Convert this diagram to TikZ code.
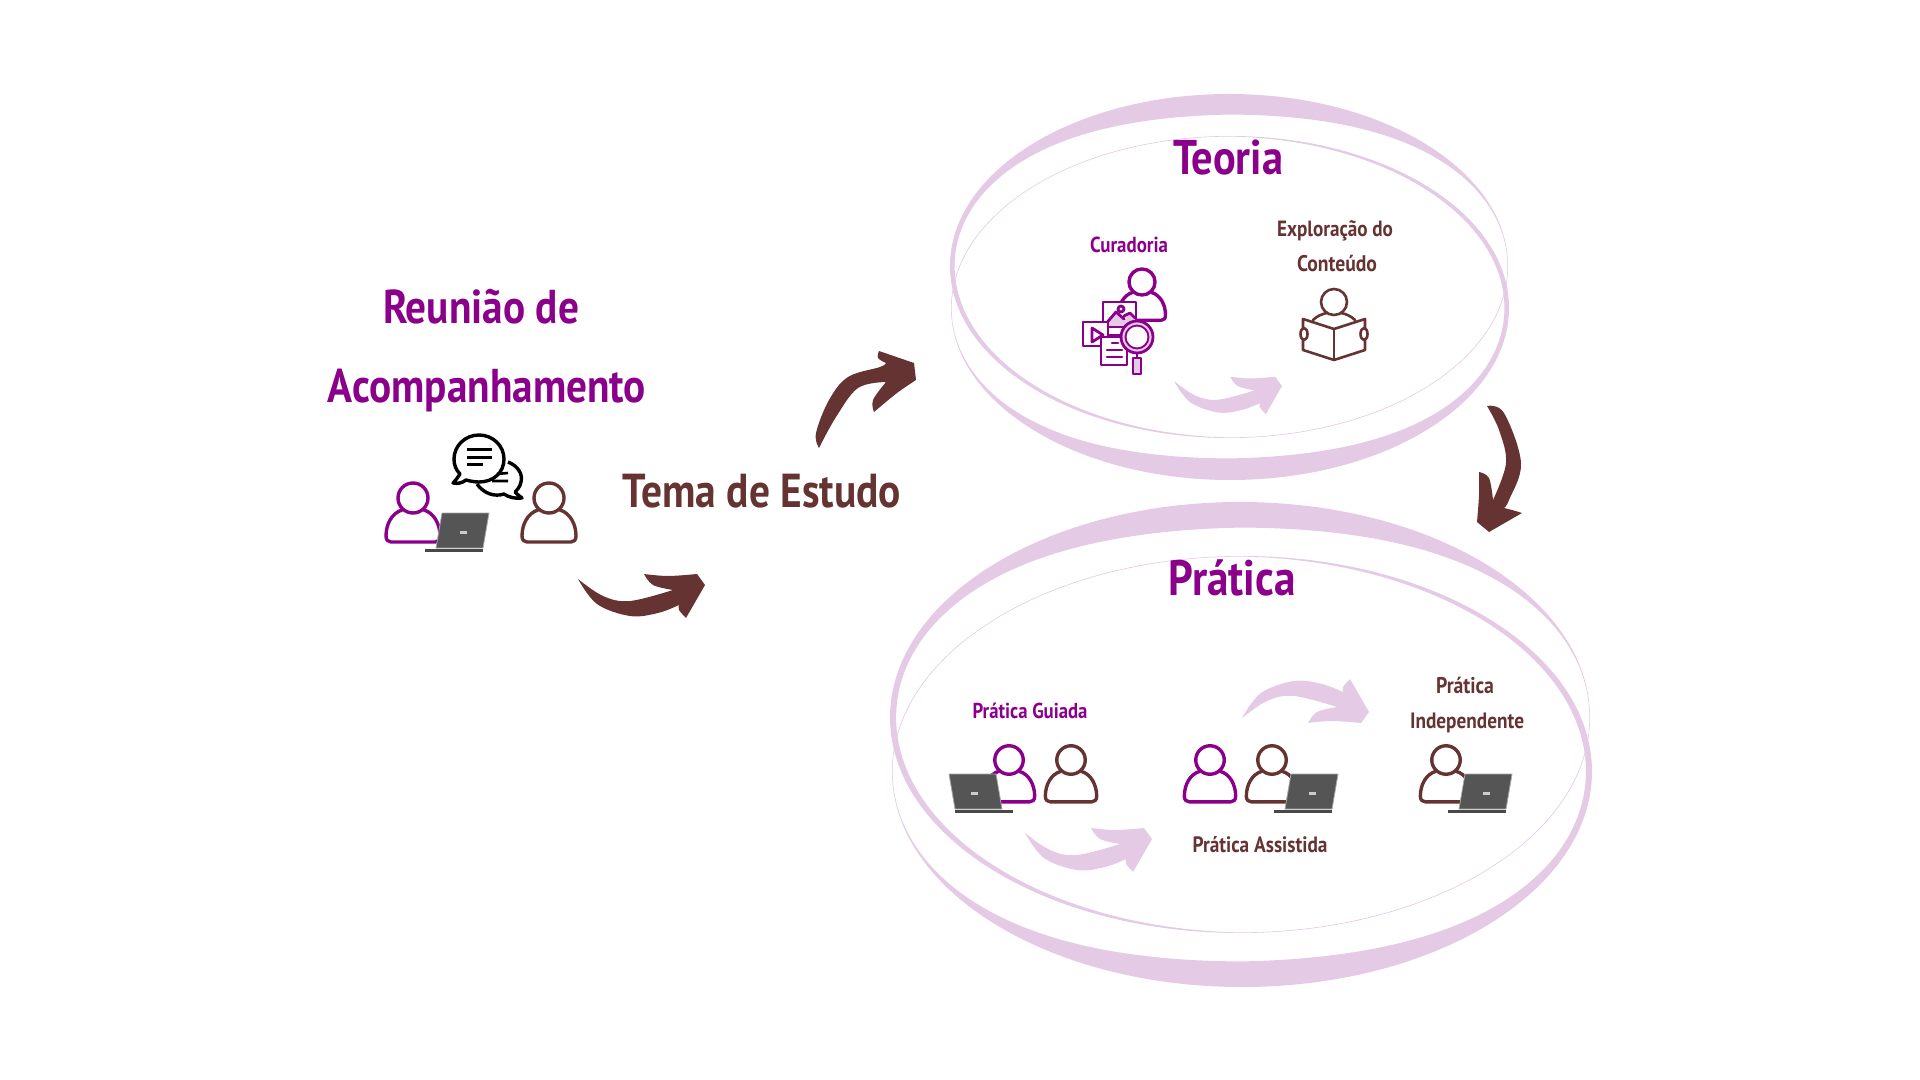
\documentclass[tikz,border=0pt]{standalone}
\usepackage{fontspec}
\setmainfont{PT Sans}
\usepackage{graphicx}
\definecolor{pur}{HTML}{8B008B}
\definecolor{bro}{HTML}{663333}
\definecolor{pnk}{HTML}{E5CAE5}
\definecolor{lap}{HTML}{555555}
\newlength\pxu \setlength\pxu{0.5pt}
\newcommand{\wtxt}[2]{\scalebox{1}[1.15]{\resizebox{#1\pxu}{!}{\bfseries #2}}}
\tikzset{lab/.style={anchor=base,inner sep=0pt,outer sep=0pt},
  icon/.style={line width=1.7pt,line join=round,line cap=round}}
% ring: cx cy rx ry crescent-width side-width direction(1 top, -1 bottom)
\newcommand{\myring}[7]{\fill[pnk,even odd rule] (#1,#2) ellipse [x radius=#3,y radius=#4]
  plot[domain=0:360,samples=180,variable=\t,smooth]
  ({#1+(#3-(0.6+#5*max(#7*sin(\t),0)^3+#6*max(-#7*cos(\t),0)))*cos(\t)},
   {#2-(#4-(0.6+#5*max(#7*sin(\t),0)^3+#6*max(-#7*cos(\t),0)))*sin(\t)}) -- cycle;}
\newcommand{\myperson}[4]{\begin{scope}[shift={(#1,#2)},scale=#3]
  \draw[icon,#4] (0,0) circle [radius=15];
  \draw[icon,#4] (-11,12) .. controls (-21,15) and (-27,26) .. (-27,38) .. controls (-27,42) and (-25,44) .. (-22,44) -- (22,44) .. controls (25,44) and (27,42) .. (27,38) .. controls (27,26) and (21,15) .. (11,12);
\end{scope}}
\newcommand{\mylaptop}[3]{\begin{scope}[shift={(#1,#2)},xscale=#3]
  \fill[lap,draw=gray!70!white,line width=.4pt] (17,0) -- (64,0) -- (58,35) -- (11,35) -- cycle;
  \fill[lap!85!black] (0,36) rectangle (58,39);
  \fill[gray!40!white] (35,18) rectangle (42,21);
\end{scope}}
\newcommand{\myarrow}[5]{\fill[#5,shift={(#1,#2)},xscale=#3,yscale=#4]
  plot[smooth,tension=.6] coordinates {(0,0) (25,17) (52,22) (95,11)}
  -- plot[smooth,tension=.6] coordinates {(95,11) (75,6) (66,-5)}
  -- plot[smooth,tension=.6] coordinates {(66,-5) (90,-3) (119,-5)}
  -- (127,6) -- (108,39)
  -- plot[smooth,tension=.6] coordinates {(108,39) (101,31) (101,26)}
  -- plot[smooth,tension=.6] coordinates {(101,26) (80,34) (52,37) (19,25) (0,0)} -- cycle;}
\begin{document}
\begin{tikzpicture}[x=.5pt,y=-.5pt]
\useasboundingbox (0,0) rectangle (1920,1080);
% Teoria rings
\myring{1229}{266}{279}{172}{20}{4}{1}
\myring{1230}{308}{279}{172}{21}{4}{-1}
% Pratica rings
\myring{1240}{717.5}{350}{215.5}{25}{5.5}{1}
\myring{1242}{771.5}{350}{215.5}{25}{5.5}{-1}
% Meeting
\myperson{413}{498}{1}{pur}
\myperson{549}{498}{1}{bro}
\mylaptop{425}{513}{1}
% speech bubbles
\draw[line width=1.7pt,line join=round,black]
  (508,462) .. controls (518,466) and (523,474) .. (521,482) .. controls (520,487) and (517,490) .. (515,492)
  .. controls (517,495) and (520,496) .. (522,498) .. controls (515,499) and (508,497) .. (504,494)
  .. controls (495,497) and (484,494) .. (477,484);
\draw[line width=1.7pt,line join=round,black,fill=white]
  (479,435) .. controls (493,435) and (504,446) .. (504,459) .. controls (504,473) and (493,482) .. (479,482)
  .. controls (474,482) and (470,481) .. (466,480) .. controls (462,483) and (458,484) .. (453,483)
  .. controls (456,480) and (458,477) .. (460,474) .. controls (456,470) and (454,465) .. (454,459)
  .. controls (454,446) and (465,435) .. cycle;
\draw[line width=1.5pt,black] (467,449) -- (492,449) (467,457) -- (492,457) (467,464) -- (483,464);
\draw[line width=1.3pt,black] (497,474) -- (508,473) (492,481) -- (508,481);
% Curadoria
\myperson{1142}{282}{.87}{pur}
\begin{scope}[icon,pur,line width=1.4pt]
  \draw[fill=white] (1103,302) rectangle (1136,327);
  \fill[pnk] (1104,326) -- (1116,312) -- (1124,319) -- (1130,313) -- (1135,318) -- (1135,326) -- cycle;
  \draw (1104,326) -- (1116,312) -- (1124,319) (1124,316) -- (1130,313) -- (1135,318);
  \draw[fill=white] (1121,309) circle [radius=3];
  \draw[fill=white] (1083,322) rectangle (1108,346);
  \draw[fill=white] (1092,328) -- (1103,335) -- (1092,342) -- cycle;
  \draw (1108,335) -- (1122,335);
  \draw[fill=white] (1101,337) rectangle (1127,365);
  \draw (1107,350) -- (1122,350) (1107,357) -- (1122,357) (1112,343) -- (1118,343);
  \draw[fill=pnk,even odd rule] (1137,337) circle [radius=16] (1137,337) circle [radius=11];
  \fill[white] (1137,337) circle [radius=10.4];
  \draw (1137,353) -- (1137,358);
  \draw[fill=pnk] (1133,358) rectangle (1141,374);
\end{scope}
% Reader
\begin{scope}[icon,bro,line width=1.3pt]
  \draw (1334,302) circle [radius=13];
  \draw (1313,320) .. controls (1317,316) and (1322,314) .. (1327,313);
  \draw (1355,320) .. controls (1351,316) and (1346,314) .. (1341,313);
  \draw (1334,329) -- (1334,360);
  \draw (1303,350) -- (1303,319) -- (1334,329) -- (1365,319) -- (1365,350) -- (1334,360) -- cycle;
  \draw[fill=white] (1304,334) ellipse [x radius=3.5,y radius=6];
  \draw[fill=white] (1364,334) ellipse [x radius=3.5,y radius=6];
\end{scope}
% Pratica people
\myperson{1009}{760}{.95}{pur}
\myperson{1071}{760}{.95}{bro}
\mylaptop{1013}{774}{-1}
\myperson{1210}{760}{.95}{pur}
\myperson{1272}{760}{.95}{bro}
\mylaptop{1274}{774}{1}
\myperson{1446}{760}{.95}{bro}
\mylaptop{1448}{774}{1}
% pink arrows
\myarrow{1174}{381}{.85}{.85}{pnk}
\myarrow{1025}{833}{1}{1}{pnk}
\myarrow{1242}{718}{1}{-1}{pnk}
% brown arrows
\myarrow{578}{579}{1}{1}{bro}
\fill[bro] plot[smooth,tension=.6] coordinates {(819,448) (816,433) (829,400) (848,377) (880,367) (886,363)}
  -- plot[smooth,tension=.6] coordinates {(886,363) (878,358) (879,351)}
  -- (914,363) -- (916,380)
  -- plot[smooth,tension=.6] coordinates {(916,380) (897,393) (874,412)}
  -- plot[smooth,tension=.6] coordinates {(874,412) (873,400) (886,382)}
  -- plot[smooth,tension=.6] coordinates {(886,382) (858,388) (836,417) (819,448)} -- cycle;
\fill[bro] plot[smooth,tension=.6] coordinates {(1487,406) (1504,413) (1521,463) (1509,500) (1504,508)}
  -- plot[smooth,tension=.6] coordinates {(1504,508) (1512,510) (1522,513)}
  -- (1489,532) -- (1477,522)
  -- plot[smooth,tension=.6] coordinates {(1477,522) (1479,495) (1479,472)}
  -- plot[smooth,tension=.6] coordinates {(1479,472) (1489,478) (1493,500)}
  -- plot[smooth,tension=.6] coordinates {(1493,500) (1506,463) (1499,430) (1487,406)} -- cycle;
% Text
\node[lab,text=pur] (t1) at (481,323) {\wtxt{196}{Reunião de}};
\node[lab,text=pur] (t2) at (487,402) {\wtxt{318}{Acompanhamento}};
\node[lab,text=bro] (t3) at (762,507) {\wtxt{278}{Tema de Estudo}};
\node[lab,text=pur] (t4) at (1228,175) {\wtxt{110}{Teoria}};
\node[lab,text=pur] (t5) at (1232,595) {\wtxt{127}{Prática}};
\node[lab,text=pur] (t6) at (1129,253) {\wtxt{78}{Curadoria}};
\node[lab,text=bro] (t7) at (1335,237) {\wtxt{116}{Exploração do}};
\node[lab,text=bro] (t8) at (1337,271) {\wtxt{80}{Conteúdo}};
\node[lab,text=pur] (t9) at (1030,718) {\wtxt{115}{Prática Guiada}};
\node[lab,text=bro] (t10) at (1260,852) {\wtxt{135}{Prática Assistida}};
\node[lab,text=bro] (t11) at (1465,693) {\wtxt{58}{Prática}};
\node[lab,text=bro] (t12) at (1467,728) {\wtxt{114}{Independente}};
\end{tikzpicture}
\end{document}
